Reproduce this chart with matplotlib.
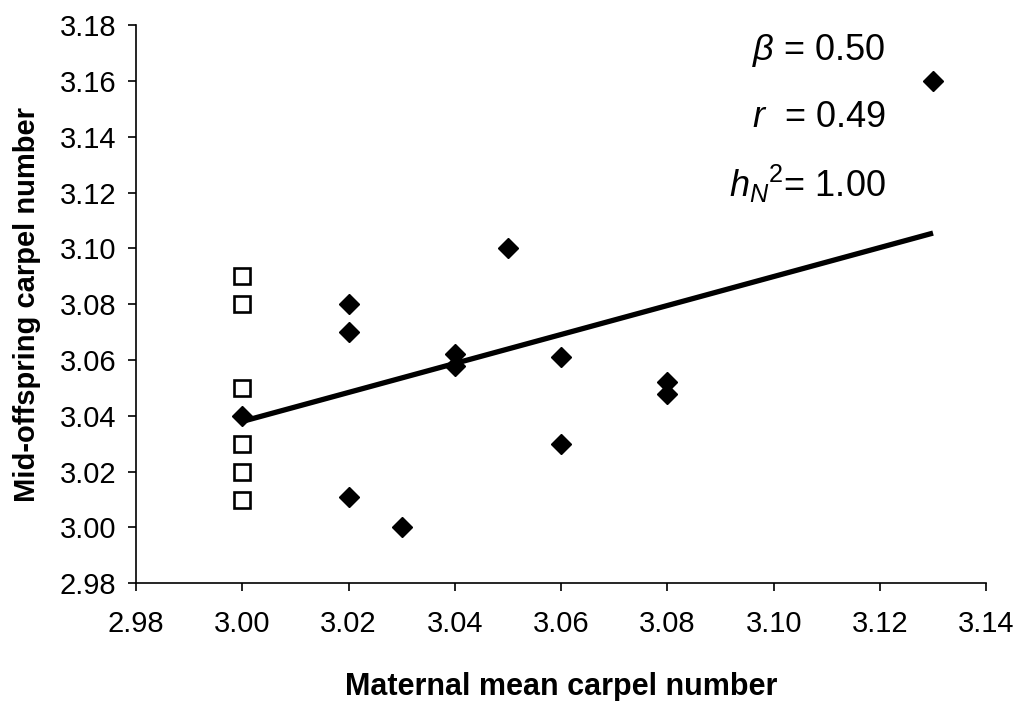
import numpy as np
import matplotlib.pyplot as plt

plt.rcParams['font.family'] = ['Liberation Sans', 'DejaVu Sans']
plt.rcParams['mathtext.fontset'] = 'custom'
plt.rcParams['mathtext.it'] = 'Liberation Sans:italic'
plt.rcParams['mathtext.rm'] = 'Liberation Sans'

# open squares (maternal mean 3.00)
open_x = [3.00, 3.00, 3.00, 3.00, 3.00, 3.00]
open_y = [3.09, 3.08, 3.05, 3.03, 3.02, 3.01]

# filled diamonds
fill_x = [3.00, 3.02, 3.02, 3.02, 3.03, 3.04, 3.04, 3.05, 3.06, 3.06, 3.08, 3.08, 3.13]
fill_y = [3.04, 3.08, 3.07, 3.011, 3.00, 3.062, 3.058, 3.10, 3.061, 3.03, 3.052, 3.048, 3.16]

# regression line
fit_x = [3.00, 3.13]
fit_y = [3.038, 3.1055]

stats = [r'$\beta$ = 0.50', r'$r$  = 0.49', r'$h_N{}^2$= 1.00']

xticks = np.round(np.arange(2.98, 3.141, 0.02), 2)
yticks = np.round(np.arange(2.98, 3.181, 0.02), 2)

fig = plt.figure(figsize=(10.23, 7.01), dpi=100)
ax = fig.add_axes([0.133, 0.168, 0.831, 0.796])

ax.plot(fit_x, fit_y, color='black', lw=3.8, solid_capstyle='butt', zorder=2)
ax.plot(open_x, open_y, ls='none', marker='s', ms=11.5, mfc='white',
        mec='black', mew=1.9, zorder=3)
ax.plot(fill_x, fill_y, ls='none', marker='D', ms=10.5, mfc='black',
        mec='black', zorder=3)

ax.set_xlim(2.98, 3.14)
ax.set_ylim(2.98, 3.18)
ax.set_xticks(xticks)
ax.set_yticks(yticks)
ax.set_xticklabels([f'{v:.2f}' for v in xticks])
ax.set_yticklabels([f'{v:.2f}' for v in yticks])
ax.tick_params(direction='out', length=6, width=1.2, labelsize=21)
ax.tick_params(axis='x', pad=13)
ax.tick_params(axis='y', pad=8)
ax.spines['top'].set_visible(False)
ax.spines['right'].set_visible(False)
ax.spines['left'].set_linewidth(1.2)
ax.spines['bottom'].set_linewidth(1.2)

ax.set_xlabel('Maternal mean carpel number', fontsize=22, fontweight='bold', labelpad=25)
ax.set_ylabel('Mid-offspring carpel number', fontsize=21, fontweight='bold', labelpad=14)

for i, s in enumerate(stats):
    ax.text(0.882, 0.955 - i * 0.12, s, transform=ax.transAxes, fontsize=26,
            ha='right', va='center')

fig.savefig('out.png', dpi=100)
